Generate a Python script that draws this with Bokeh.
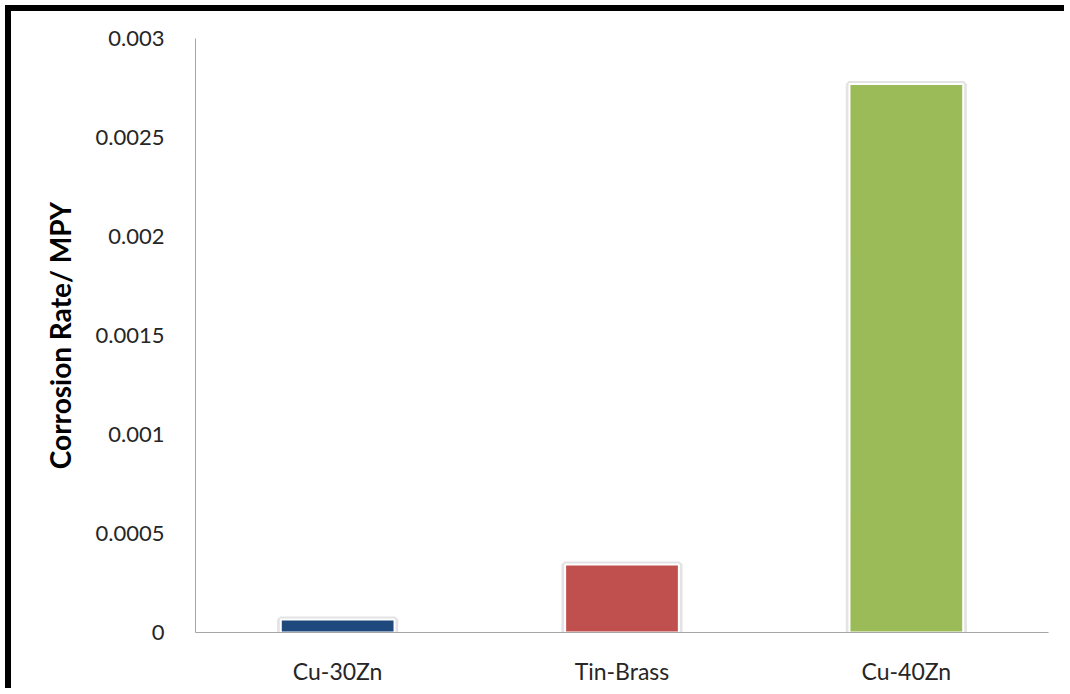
from bokeh.plotting import figure
from bokeh.models import (ColumnDataSource, FactorRange, Range1d, FixedTicker,
                          CustomJSTickFormatter)
from bokeh.embed import file_html
from bokeh.resources import INLINE

# Corrosion rate of each alloy (mils per year)
alloys = ["Cu-30Zn", "Tin-Brass", "Cu-40Zn"]
corrosion_rate = [0.000066, 0.000343, 0.002770]
bar_colors = ["#1F497D", "#C0504D", "#9BBB59"]
y_ticks = [0, 0.0005, 0.001, 0.0015, 0.002, 0.0025, 0.003]

src = ColumnDataSource(dict(alloy=alloys, rate=corrosion_rate, color=bar_colors))

OFF = 11  # page margin plus the black frame on the top and left
W, H = 1070 - OFF, 694 - OFF
p = figure(x_range=FactorRange(*alloys, range_padding=0),
           y_range=Range1d(0, 0.003),
           width=W, height=H, output_backend="svg", toolbar_location=None,
           min_border_left=195 - OFF, min_border_right=22,
           min_border_top=38 - OFF, min_border_bottom=62)
p.styles = {"border-left": "6px solid black", "border-top": "6px solid black",
            "margin-left": "5px", "margin-top": "5px"}
p.outline_line_color = None
p.xgrid.grid_line_color = None
p.ygrid.grid_line_color = None
p.background_fill_color = "white"
p.border_fill_color = "white"

# soft shadow behind each bar, then the bar with a thin white rim
p.vbar(x="alloy", top="rate", width=0.405, source=src, fill_color=None,
       line_color="#b0b0b0", line_alpha=0.35, line_width=6)
p.vbar(x="alloy", top="rate", width=0.40, source=src, fill_color="color",
       line_color="white", line_width=2)

axis_gray = "#a6a6a6"
font = "Lato"

p.yaxis.ticker = FixedTicker(ticks=y_ticks)
p.yaxis.formatter = CustomJSTickFormatter(
    code="return String(Math.round(tick * 10000) / 10000);")
p.yaxis.axis_line_color = axis_gray
p.yaxis.major_tick_line_color = None
p.yaxis.minor_tick_line_color = None
p.yaxis.major_label_text_font = font
p.yaxis.major_label_text_font_size = "22px"
p.yaxis.major_label_text_color = "#262626"
p.yaxis.major_label_standoff = 25
p.yaxis.axis_label = "Corrosion Rate/ MPY"
p.yaxis.axis_label_text_font = font
p.yaxis.axis_label_text_font_size = "28px"
p.yaxis.axis_label_text_font_style = "bold"
p.yaxis.axis_label_text_color = "black"
p.yaxis.axis_label_standoff = 16

p.xaxis.axis_line_color = axis_gray
p.xaxis.major_tick_line_color = None
p.xaxis.minor_tick_line_color = None
p.xaxis.major_label_text_font = font
p.xaxis.major_label_text_font_size = "23px"
p.xaxis.major_label_text_color = "#262626"
p.xaxis.major_label_standoff = 18

open("out.html", "w").write(file_html(p, INLINE))
